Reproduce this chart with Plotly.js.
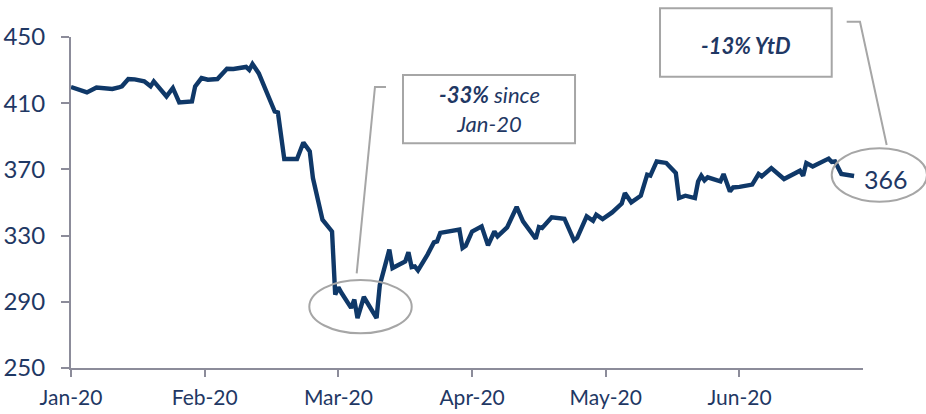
<!DOCTYPE html>
<html>
<head>
<meta charset="utf-8">
<script src="https://cdn.plot.ly/plotly-3.0.1.min.js"></script>
<style>
html,body{margin:0;padding:0;background:#fff;}
#chart{width:926px;height:414px;}
</style>
</head>
<body>
<div id="chart"></div>
<script>
const obs = [0,5,8,13,15,16,18,20,23,25,26,30,32,34,38,39,41,43,46,49,51,55,56,57,59,62,64,65,67,71,73,75,76,79,82,83,84,85,88,89,90,92,96,97,100,101,105,106,107,108,109,112,114,115,116,122,123,124,126,129,131,133,134,137,140,142,146,147,148,151,155,158,159,162,164,165,167,170,172,173,174,176,179,181,182,184,187,189,190,191,193,196,197,198,199,200,202,204,205,207,208,210,214,216,217,220,224,228,229,230,231,233,238,239,240,242,246];
// Index level
const level = [419.8,416.5,419.5,418.6,419.5,420.2,424.6,424.4,423.2,420.2,423.2,414.1,419.2,410.5,411.1,420.2,425.2,424.2,424.6,430.8,430.7,431.9,430.1,433.7,428.0,415.1,405.0,404.4,376.3,376.3,386.3,380.9,364.8,339.6,332.5,294.3,298.7,295.3,286.3,291.3,280.2,292.9,280.2,300.0,321.5,310.4,314.4,319.9,311.0,311.4,309.0,318.5,325.9,326.5,331.6,333.6,322.5,323.9,332.5,335.6,324.1,332.5,329.5,335.0,347.3,338.6,328.1,335.2,334.6,341.0,340.2,327.1,328.6,341.6,339.0,342.6,340.0,344.0,348.1,349.3,355.7,350.1,354.1,366.8,366.2,374.8,373.9,369.2,367.8,352.7,354.1,352.7,362.7,366.2,363.4,365.2,364.2,362.8,367.2,356.7,359.1,359.4,360.8,367.2,365.8,370.8,364.2,367.8,369.2,366.2,373.9,371.8,376.5,374.5,374.8,367.2,366.0];
// Month tick positions and labels
const monthTicks = [0,42,84,126,168,210];
const monthLabels = ["Jan-20","Feb-20","Mar-20","Apr-20","May-20","Jun-20"];
const yTicks = [250,290,330,370,410,450];

const navy = '#1F3864';
const lineCol = '#0F3868';
const grey = '#A6A6A6';
const axisCol = '#8C8C9A';
const FONT = 'Lato, "Open Sans", sans-serif';

const trace = {
  x: obs, y: level, type: 'scatter', mode: 'lines',
  line: {color: lineCol, width: 4.4},
  hoverinfo: 'skip'
};

const layout = {
  width: 926, height: 414,
  margin: {l: 71, r: 63, t: 37, b: 46},
  paper_bgcolor: '#fff', plot_bgcolor: '#fff',
  showlegend: false,
  font: {family: FONT, color: navy},
  xaxis: {
    range: [0, 248.8], showgrid: false, zeroline: false,
    showline: true, linecolor: axisCol, linewidth: 2,
    ticks: 'outside', ticklen: 7, tickwidth: 2, tickcolor: axisCol,
    tickmode: 'array', tickvals: monthTicks, ticktext: monthLabels,
    tickfont: {family: FONT, size: 21, color: navy},
    ticklabelstandoff: 3, fixedrange: true
  },
  yaxis: {
    range: [250, 450], showgrid: false, zeroline: false,
    showline: true, linecolor: axisCol, linewidth: 2,
    ticks: 'outside', ticklen: 8, tickwidth: 2, tickcolor: axisCol,
    tickmode: 'array', tickvals: yTicks,
    tickfont: {family: FONT, size: 24, color: navy},
    ticklabelstandoff: 11, fixedrange: true
  },
  shapes: [
    // box 1
    {type:'rect', xref:'paper', yref:'paper', x0:0.4192, x1:0.6364, y0:0.6789, y1:0.8852,
     line:{color:grey, width:2}, fillcolor:'#fff', layer:'above'},
    // connector 1
    {type:'path', xref:'paper', yref:'paper', path:'M 0.3977 0.8489 L 0.3838 0.8489 L 0.3607 0.2861',
     line:{color:grey, width:2}},
    // ellipse 1
    {type:'circle', xref:'paper', yref:'paper', x0:0.3009, x1:0.4302, y0:0.1048, y1:0.2659,
     line:{color:grey, width:2}},
    // box 2
    {type:'rect', xref:'paper', yref:'paper', x0:0.7437, x1:0.9605, y0:0.8801, y1:1.0867,
     line:{color:grey, width:2}, fillcolor:'#fff', layer:'above'},
    // connector 2
    {type:'path', xref:'paper', yref:'paper', path:'M 0.9794 1.0462 L 0.9962 1.0462 L 1.0299 0.6737',
     line:{color:grey, width:2}},
    // ellipse 2
    {type:'circle', xref:'paper', yref:'paper', x0:0.9605, x1:1.0808, y0:0.5024, y1:0.6637,
     line:{color:grey, width:2}}
  ],
  annotations: [
    {xref:'paper', yref:'paper', x:0.5278, y:0.7820, xanchor:'center', yanchor:'middle',
     text:'<b><i>-33%</i></b><i> since</i><br><i>Jan-20</i>', showarrow:false, align:'center',
     font:{family:FONT, size:22, color:navy}},
    {xref:'paper', yref:'paper', x:0.8521, y:0.9758, xanchor:'center', yanchor:'middle',
     text:'<b><i>-13% YtD</i></b>', showarrow:false,
     font:{family:FONT, size:22, color:navy}},
    {xref:'paper', yref:'paper', x:1.0285, y:0.5725, xanchor:'center', yanchor:'middle',
     text:'366', showarrow:false,
     font:{family:FONT, size:25, color:navy}}
  ]
};

Plotly.newPlot('chart', [trace], layout, {staticPlot: true, displayModeBar: false});
</script>
</body>
</html>
